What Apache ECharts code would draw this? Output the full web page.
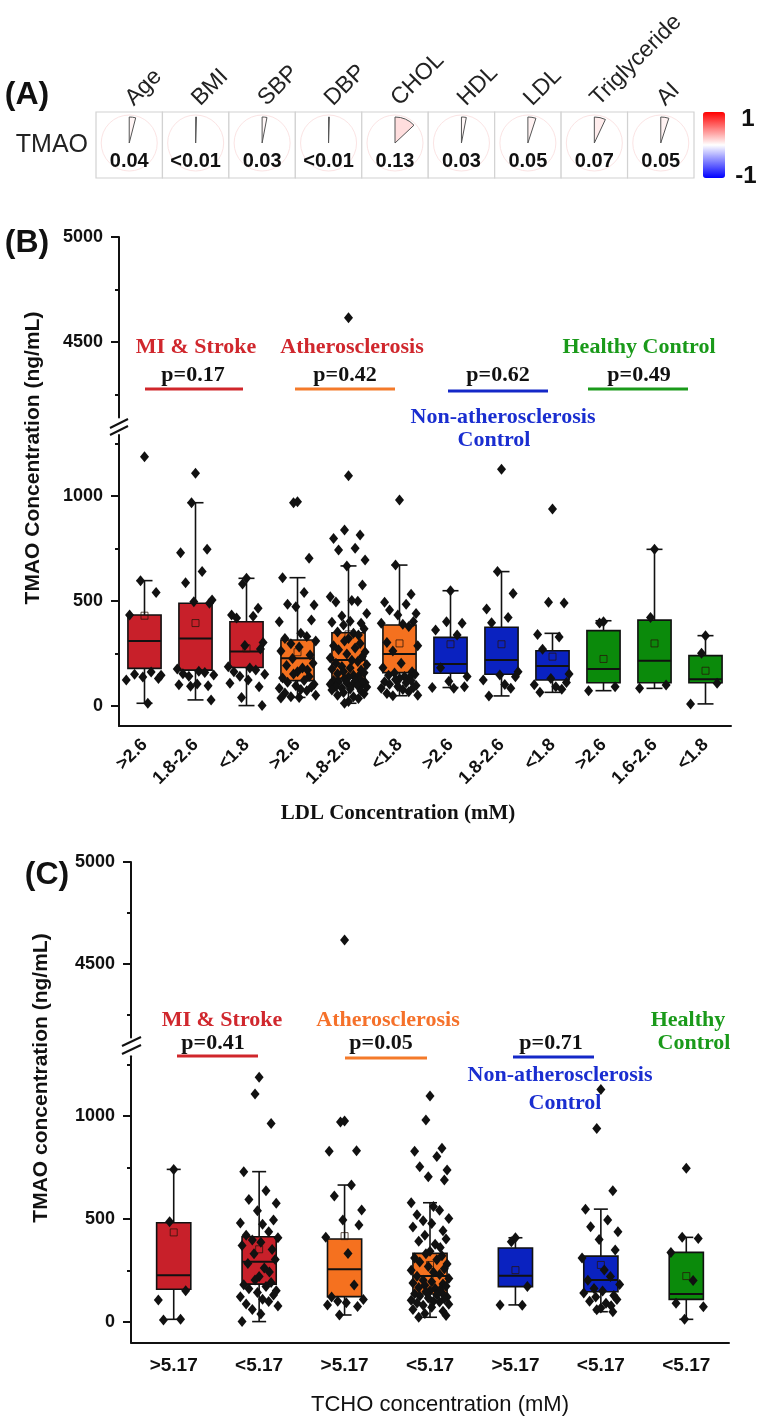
<!DOCTYPE html>
<html><head><meta charset="utf-8">
<script src="https://cdn.jsdelivr.net/npm/echarts@6/dist/echarts.min.js"></script>
<style>html,body{margin:0;padding:0;background:#fff}#c{width:762px;height:1424px}</style>
</head><body><div id="c"></div>
<script>
// ---------- Panel A data ----------
const corrVars = ['Age','BMI','SBP','DBP','CHOL','HDL','LDL','Triglyceride','AI'];
const corrRow = ['TMAO'];
const corrValues = [0.04, 0.005, 0.03, 0.005, 0.13, 0.03, 0.05, 0.07, 0.05];
const corrLabels = ['0.04','<0.01','0.03','<0.01','0.13','0.03','0.05','0.07','0.05'];

// ---------- Panel B data ----------
const ldlCategories = ['>2.6','1.8-2.6','<1.8','>2.6','1.8-2.6','<1.8','>2.6','1.8-2.6','<1.8','>2.6','1.6-2.6','<1.8'];
const ldlGroupIdx = [0,0,0,1,1,1,2,2,2,3,3,3];
// [whiskerLow, Q1, median, Q3, whiskerHigh, mean]
const ldlBoxStats = [
  [13,179,309,433,597,430],
  [29,171,322,489,968,395],
  [2,183,259,401,608,275],
  [41,121,227,314,611,256],
  [13,132,219,349,667,341],
  [49,159,248,386,671,298],
  [88,156,200,327,549,294],
  [48,151,219,375,640,294],
  [65,124,190,263,346,235],
  [73,111,176,359,406,224],
  [84,111,216,409,746,298],
  [10,111,127,240,335,168]
];
const ldlPoints = [
  [1187,597,541,433,162,151,146,138,131,124,13],
  [1108,968,746,730,640,587,505,497,489,176,166,159,153,148,142,105,101,97,94,29],
  [608,581,465,433,427,419,302,288,271,187,181,172,163,151,142,124,108,92,41,2],
  [973,968,703,611,540,484,481,473,409,401,346,331,322,309,296,281,262,243,226,204,193,181,172,163,152,141,133,122,113,104,96,91,84,79,73,62,51,44,41,38],
  [1097,838,814,798,751,743,695,667,576,520,502,499,495,441,428,403,399,394,386,368,352,346,338,321,309,298,287,276,268,257,248,236,229,218,212,203,197,188,181,176,171,164,158,153,147,142,138,131,127,122,119,116,112,109,106,103,99,96,93,90,86,81,76,71,64,58,51,44,36,22,13],
  [981,671,532,494,484,457,441,433,402,394,389,378,302,287,262,203,182,163,157,151,146,141,136,131,126,121,116,111,104,98,93,88,84,79,68,59,51,49],
  [549,401,394,362,338,182,141,118,92,88,84],
  [1127,640,536,462,421,397,163,148,139,124,102,84,48],
  [938,494,490,341,329,270,152,131,112,101,92,80,65],
  [401,395,92,73],
  [746,421,100,84],
  [335,251,108,10]
];
const ldlHighPoints = [[4, 4615]];

// ---------- Panel C data ----------
const tchoCategories = ['>5.17','<5.17','>5.17','<5.17','>5.17','<5.17','<5.17'];
const tchoGroupIdx = [0,0,1,1,2,2,3];
const tchoBoxStats = [
  [13,159,227,482,741,435],
  [2,184,293,414,730,353],
  [34,123,256,403,665,417],
  [23,136,223,333,579,277],
  [83,172,225,359,409,252],
  [50,147,204,320,548,277],
  [13,110,136,338,411,223]
];
const tchoPoints = [
  [741,487,152,107,13,10],
  [1188,1107,964,730,637,595,576,540,495,481,474,438,421,409,398,387,371,352,331,303,284,262,243,221,204,192,181,172,161,152,143,131,122,111,99,88,78,61,39,2],
  [976,971,832,829,665,612,544,495,471,412,333,180,121,109,101,94,82,75,34],
  [1097,981,843,829,803,754,738,705,689,579,561,542,521,503,492,478,461,443,421,403,392,378,362,343,331,322,311,302,291,282,269,258,251,242,231,222,211,203,196,189,184,178,173,168,163,157,152,147,142,137,131,126,121,117,112,106,101,97,92,86,81,72,61,52,41,31,23],
  [409,390,172,83,81],
  [1129,940,637,548,495,463,438,401,349,311,252,221,203,182,163,151,141,129,121,109,101,91,79,68,59,50],
  [746,411,405,338,201,91,74,13]
];
const tchoHighPoints = [[2, 4618]];

// ---------- styling ----------
const SANS = '"Liberation Sans", Arial, sans-serif';
const SERIF = '"Liberation Serif", "Times New Roman", serif';
const BOX_COLORS = ['#c8202a', '#f5711f', '#0a22c0', '#0b8a0b'];
const JITTER = [0,-0.12,0.35,-0.45,0.2,-0.3,0.5,-0.05,0.42,-0.55,0.1,0.28,-0.38,0.55,-0.2,0.05,-0.5,0.38,-0.15,0.47,-0.33,0.15,0.3];

function boxData(stats, groups) {
  return stats.map((s, i) => [i].concat(s).concat([groups[i]]));
}
function pointData(groups, boxRatio) {
  const out = [];
  groups.forEach((vals, gi) => vals.forEach((v, k) => out.push([gi + JITTER[k % JITTER.length] * boxRatio, v])));
  return out;
}
function makeBoxRenderer(boxRatio, capPx) {
  return function (params, api) {
    const x = api.value(0);
    const lo = api.coord([x, api.value(1)]);
    const q1 = api.coord([x, api.value(2)]);
    const med = api.coord([x, api.value(3)]);
    const q3 = api.coord([x, api.value(4)]);
    const hi = api.coord([x, api.value(5)]);
    const mean = api.coord([x, api.value(6)]);
    const color = BOX_COLORS[api.value(7)];
    const bw = api.size([1, 0])[0] * boxRatio;
    const cx = lo[0];
    const ln = {stroke: '#111', lineWidth: 1.6};
    return {type: 'group', children: [
      {type: 'line', shape: {x1: cx, y1: hi[1], x2: cx, y2: lo[1]}, style: ln},
      {type: 'line', shape: {x1: cx - capPx / 2, y1: hi[1], x2: cx + capPx / 2, y2: hi[1]}, style: ln},
      {type: 'line', shape: {x1: cx - capPx / 2, y1: lo[1], x2: cx + capPx / 2, y2: lo[1]}, style: ln},
      {type: 'rect', shape: {x: cx - bw / 2, y: q3[1], width: bw, height: q1[1] - q3[1]}, style: {fill: color, stroke: '#111', lineWidth: 1.6}},
      {type: 'line', shape: {x1: cx - bw / 2, y1: med[1], x2: cx + bw / 2, y2: med[1]}, style: {stroke: '#111', lineWidth: 2}},
      {type: 'rect', shape: {x: cx - 3.5, y: mean[1] - 3.5, width: 7, height: 7}, style: {fill: 'none', stroke: 'rgba(40,20,10,0.75)', lineWidth: 1}}
    ]};
  };
}
function renderCorr(params, api) {
  const c = api.coord([api.value(0), api.value(1)]);
  const s = api.size([1, 1]);
  const r = api.value(2);
  const color = api.visual('color');
  const cy = c[1] - 2;
  return {type: 'group', children: [
    {type: 'rect', shape: {x: c[0] - s[0] / 2, y: c[1] - s[1] / 2, width: s[0], height: s[1]}, style: {fill: '#fff', stroke: '#d2d2d2', lineWidth: 1.2}},
    {type: 'circle', shape: {cx: c[0], cy: cy, r: 28}, style: {fill: 'none', stroke: '#fbe4e4', lineWidth: 1}},
    {type: 'sector', shape: {cx: c[0], cy: cy, r: 26, r0: 0, startAngle: -Math.PI / 2, endAngle: -Math.PI / 2 + r * 2 * Math.PI, clockwise: true}, style: {fill: color, stroke: '#555', lineWidth: 1}},
    {type: 'text', style: {text: corrLabels[params.dataIndex], x: c[0], y: c[1] + 16, align: 'center', verticalAlign: 'middle', textAlign: 'center', textVerticalAlign: 'middle', font: 'bold 20px ' + SANS, fill: '#111'}}
  ]};
}
function valueY(grid, min, max, labels, ticks) {
  return {type: 'value', gridIndex: grid, min: min, max: max, position: 'left',
    axisLine: {show: true, onZero: false, lineStyle: {color: '#111', width: 2}},
    axisTick: {show: true, customValues: ticks, length: 8, lineStyle: {color: '#111', width: 2}},
    axisLabel: {show: true, customValues: labels, margin: 16, fontSize: 18, fontWeight: 'bold', color: '#111', fontFamily: SANS,
      formatter: function (v) { return String(v); }},
    splitLine: {show: false}};
}
function minorY(grid, min, max, ticks) {
  return {type: 'value', gridIndex: grid, min: min, max: max, position: 'left',
    axisLine: {show: false, onZero: false},
    axisTick: {show: true, customValues: ticks, length: 4, lineStyle: {color: '#111', width: 2}},
    axisLabel: {show: false}, splitLine: {show: false}};
}
function hiddenX(grid, n) {
  return {type: 'value', gridIndex: grid, min: -0.5, max: n - 0.5, show: false, splitLine: {show: false}};
}

const B_RATIO = 0.65, C_RATIO = 0.40;

function txt(t, x, y, color, size) {
  return {type: 'text', x: x, y: y, style: {text: t, align: 'center', verticalAlign: 'middle', textAlign: 'center', textVerticalAlign: 'middle', font: 'bold ' + (size || 22) + 'px ' + SERIF, fill: color || '#111'}};
}
function seg(x1, x2, y, color) {
  return {type: 'line', shape: {x1: x1, y1: y, x2: x2, y2: y}, style: {stroke: color, lineWidth: 3}};
}
function brk(x1, y1, x2, y2) {
  return {type: 'line', shape: {x1: x1, y1: y1, x2: x2, y2: y2}, style: {stroke: '#111', lineWidth: 2}};
}
function sansText(t, x, y, size, rot) {
  return {type: 'text', x: x, y: y, rotation: rot || 0, style: {text: t, align: 'center', verticalAlign: 'middle', textAlign: 'center', textVerticalAlign: 'middle', font: 'bold ' + size + 'px ' + SANS, fill: '#111'}};
}
const RED_T = '#d0272d', ORANGE_T = '#f5712a', BLUE_T = '#1a2ed0', GREEN_T = '#1a9a1a';
const graphics = [
  sansText('(A)', 27, 95, 32), sansText('(B)', 27, 243, 32), sansText('(C)', 47, 875, 32),
  sansText('1', 748, 119, 24), sansText('-1', 746, 176, 24),
  sansText('TMAO Concentration (ng/mL)', 33, 458, 21, Math.PI / 2),
  sansText('TMAO concentration (ng/mL)', 41, 1078, 21, Math.PI / 2),
  // panel B annotations
  txt('MI & Stroke', 196, 347, RED_T), txt('p=0.17', 193, 375), seg(145, 243, 389, '#d0262b'),
  txt('Atherosclerosis', 352, 347, RED_T), txt('p=0.42', 345, 375), seg(295, 395, 389, '#f47a2a'),
  txt('p=0.62', 498, 375), seg(448, 548, 391, '#1428c8'),
  txt('Non-atherosclerosis', 503, 417, BLUE_T), txt('Control', 494, 440, BLUE_T),
  txt('Healthy Control', 639, 347, GREEN_T), txt('p=0.49', 639, 375), seg(588, 688, 389, '#1a9a1a'),
  brk(110, 428, 128, 419), brk(110, 435, 128, 426),
  // panel C annotations
  txt('MI & Stroke', 222, 1020, RED_T), txt('p=0.41', 213, 1043), seg(177, 258, 1056, '#d0262b'),
  txt('Atherosclerosis', 388, 1020, ORANGE_T), txt('p=0.05', 381, 1043), seg(345, 427, 1058, '#f47a2a'),
  txt('p=0.71', 551, 1043), seg(513, 594, 1057, '#1428c8'),
  txt('Non-atherosclerosis', 560, 1075, BLUE_T), txt('Control', 565, 1103, BLUE_T),
  txt('Healthy', 688, 1020, GREEN_T), txt('Control', 694, 1043, GREEN_T),
  brk(122, 1046, 141, 1037), brk(122, 1054, 141, 1045)
];

const DIAMOND = {type: 'scatter', symbol: 'diamond', symbolSize: [9, 11], itemStyle: {color: '#111', opacity: 1}, silent: true};

const option = {
  animation: false,
  backgroundColor: '#fff',
  textStyle: {fontFamily: SANS},
  grid: [
    {left: 96, top: 112, width: 598, height: 66, outerBoundsMode: 'none', containLabel: false},
    {left: 119, top: 237, width: 612, height: 180.6, outerBoundsMode: 'none', containLabel: false},
    {left: 119, top: 435.1, width: 612, height: 290.85, outerBoundsMode: 'none', containLabel: false},
    {left: 131, top: 862, width: 598, height: 175.4, outerBoundsMode: 'none', containLabel: false},
    {left: 131, top: 1056.3, width: 598, height: 286.3, outerBoundsMode: 'none', containLabel: false}
  ],
  xAxis: [
    {type: 'category', gridIndex: 0, data: corrVars, position: 'top',
      axisLine: {show: false}, axisTick: {show: false}, splitLine: {show: false},
      axisLabel: {interval: 0, rotate: -45, margin: 10, fontSize: 23, color: '#222', fontFamily: SANS}},
    hiddenX(1, ldlCategories.length),
    {type: 'category', gridIndex: 2, data: ldlCategories, position: 'bottom', boundaryGap: true,
      axisLine: {onZero: false, lineStyle: {color: '#111', width: 2}},
      axisTick: {alignWithLabel: true, length: 8, lineStyle: {color: '#111', width: 2}},
      axisLabel: {interval: 0, rotate: 45, margin: 16, fontSize: 18, fontWeight: 'bold', color: '#111', fontFamily: SANS},
      name: 'LDL Concentration (mM)', nameLocation: 'middle', nameGap: 77,
      nameTextStyle: {fontFamily: SERIF, fontWeight: 'bold', fontSize: 21, color: '#111', padding: [0, 54, 0, 0]}},
    hiddenX(2, ldlCategories.length),
    hiddenX(3, tchoCategories.length),
    {type: 'category', gridIndex: 4, data: tchoCategories, position: 'bottom', boundaryGap: true,
      axisLine: {onZero: false, lineStyle: {color: '#111', width: 2}},
      axisTick: {alignWithLabel: true, length: 8, lineStyle: {color: '#111', width: 2}},
      axisLabel: {interval: 0, margin: 14, fontSize: 19, fontWeight: 'bold', color: '#111', fontFamily: SANS},
      name: 'TCHO concentration (mM)', nameLocation: 'middle', nameGap: 51,
      nameTextStyle: {fontFamily: SANS, fontSize: 22, color: '#111', padding: [0, 0, 0, 20]}},
    hiddenX(4, tchoCategories.length)
  ],
  yAxis: [
    {type: 'category', gridIndex: 0, data: corrRow,
      axisLine: {show: false}, axisTick: {show: false}, splitLine: {show: false},
      axisLabel: {margin: 8, fontSize: 25, color: '#222', fontFamily: SANS}},
    valueY(1, 4140, 5000, [4500, 5000], [4500, 5000]),
    minorY(1, 4140, 5000, [4250, 4750]),
    valueY(2, -95, 1290, [0, 500, 1000], [0, 500, 1000]),
    minorY(2, -95, 1290, [250, 750, 1250]),
    valueY(3, 4140, 5000, [4500, 5000], [4500, 5000]),
    minorY(3, 4140, 5000, [4250, 4750]),
    valueY(4, -100, 1290, [0, 500, 1000], [0, 500, 1000]),
    minorY(4, -100, 1290, [250, 750, 1250])
  ],
  visualMap: {
    type: 'continuous', min: -1, max: 1, seriesIndex: 0, dimension: 2,
    inRange: {color: ['#0000ff', '#ffffff', '#ff0000']},
    orient: 'vertical', left: 703, top: 112, itemWidth: 22, itemHeight: 66,
    calculable: false, showLabel: false, padding: 0, hoverLink: false
  },
  graphic: graphics,
  series: [
    {type: 'custom', xAxisIndex: 0, yAxisIndex: 0, renderItem: renderCorr,
      data: corrValues.map((v, i) => [i, 0, v]), silent: true},
    Object.assign({}, DIAMOND, {xAxisIndex: 1, yAxisIndex: 1, data: ldlHighPoints}),
    {type: 'custom', xAxisIndex: 3, yAxisIndex: 3, renderItem: makeBoxRenderer(B_RATIO, 16),
      data: boxData(ldlBoxStats, ldlGroupIdx), silent: true},
    Object.assign({}, DIAMOND, {xAxisIndex: 3, yAxisIndex: 3, data: pointData(ldlPoints, B_RATIO)}),
    Object.assign({}, DIAMOND, {xAxisIndex: 4, yAxisIndex: 5, data: tchoHighPoints}),
    {type: 'custom', xAxisIndex: 6, yAxisIndex: 7, renderItem: makeBoxRenderer(C_RATIO, 14),
      data: boxData(tchoBoxStats, tchoGroupIdx), silent: true},
    Object.assign({}, DIAMOND, {xAxisIndex: 6, yAxisIndex: 7, data: pointData(tchoPoints, C_RATIO)})
  ]
};
const chart = echarts.init(document.getElementById('c'));
chart.setOption(option);
</script></body></html>
